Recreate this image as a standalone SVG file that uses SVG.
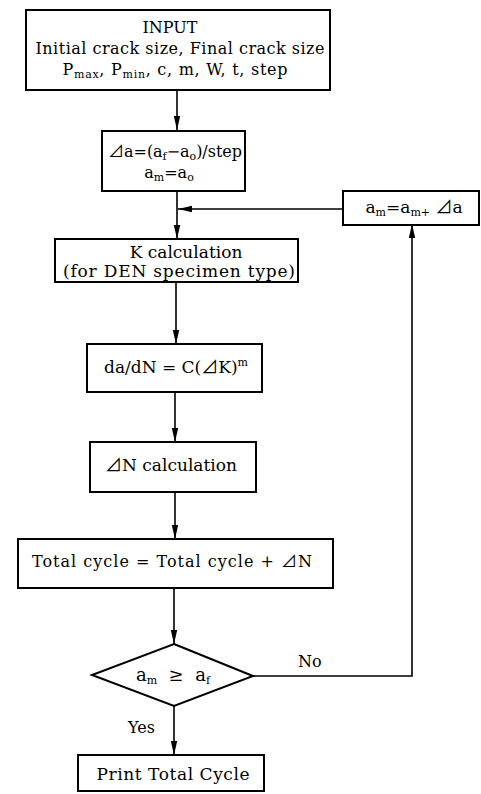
<svg xmlns="http://www.w3.org/2000/svg" width="481" height="794" viewBox="0 0 481 794">
<defs>
<marker id="ah" markerUnits="userSpaceOnUse" markerWidth="14" markerHeight="8" refX="14" refY="4" orient="auto"><path d="M0,0.8 L14,4 L0,7.2 z" fill="#000"/></marker>
<style>
.box{fill:#fff;stroke:#000;stroke-width:2}
.ln{fill:none;stroke:#000;stroke-width:1.6}
text{font-family:"DejaVu Serif","Liberation Serif","Noto Sans CJK JP",serif;font-size:16px;fill:#000}
.s{font-size:16px}
.b{font-size:17px}
.d{font-size:18px}
.sub{font-size:11px}
.c{text-anchor:middle}
</style>
</defs>
<rect width="481" height="794" fill="#fff"/>
<g id="connectors">
<path class="ln" d="M177,90 V130" marker-end="url(#ah)"/>
<path class="ln" d="M177,191 V239" marker-end="url(#ah)"/>
<path class="ln" d="M343,209 H178" marker-end="url(#ah)"/>
<path class="ln" d="M176,282 V344" marker-end="url(#ah)"/>
<path class="ln" d="M175,392 V442" marker-end="url(#ah)"/>
<path class="ln" d="M175,492 V539" marker-end="url(#ah)"/>
<path class="ln" d="M174,588 V644" marker-end="url(#ah)"/>
<path class="ln" d="M174,706 V755" marker-end="url(#ah)"/>
<path class="ln" d="M253,676 H412 V224" marker-end="url(#ah)"/>
<text x="298" y="667">No</text>
<text x="128" y="733">Yes</text>
</g>
<g id="input">
<rect class="box" x="26" y="10" width="304" height="80"/>
<text class="s c" x="170" y="33">INPUT</text>
<text class="s c" x="180" y="54" textLength="289">Initial crack size, Final crack size</text>
<text class="s c" x="175" y="75" textLength="225">P<tspan class="sub" dy="3">max</tspan><tspan dy="-3">, P</tspan><tspan class="sub" dy="3">min</tspan><tspan dy="-3">, c, m, W, t, step</tspan></text>
</g>
<g id="init">
<rect class="box" x="102" y="131" width="143" height="60"/>
<text class="c" x="175" y="157" textLength="134">⊿a=(a<tspan class="sub" dy="3">f</tspan><tspan dy="-3">−a</tspan><tspan class="sub" dy="3">o</tspan><tspan dy="-3">)/step</tspan></text>
<text class="c" x="169" y="178">a<tspan class="sub" dy="3">m</tspan><tspan dy="-3">=a</tspan><tspan class="sub" dy="3">o</tspan></text>
</g>
<g id="increment">
<rect class="box" x="343" y="191" width="136" height="34"/>
<text class="b c" x="414" y="213">a<tspan class="sub" dy="3">m</tspan><tspan dy="-3">=a</tspan><tspan class="sub" dy="3">m+</tspan><tspan dy="-3"> ⊿a</tspan></text>
</g>
<g id="kcalc">
<rect class="box" x="55" y="239" width="243" height="43"/>
<text class="b c" x="186" y="258">K calculation</text>
<text class="b c" x="179" y="277" textLength="232">(for DEN specimen type)</text>
</g>
<g id="dadn">
<rect class="box" x="87" y="344" width="175" height="48"/>
<text class="b c" x="176" y="373">da/dN = C(⊿K)<tspan class="sub" dy="-7">m</tspan></text>
</g>
<g id="dn">
<rect class="box" x="90" y="442" width="166" height="50"/>
<text class="b c" x="171" y="471">⊿N calculation</text>
</g>
<g id="total">
<rect class="box" x="18" y="539" width="315" height="49"/>
<text class="c" x="172" y="567" textLength="280">Total cycle = Total cycle + ⊿N</text>
</g>
<g id="decision">
<path class="box" d="M174,644 L253,676 L174,706 L92,675 Z"/>
<text class="d" x="136" y="681" xml:space="preserve">a<tspan class="sub" dy="3">m</tspan><tspan dy="-3">  ≥  a</tspan><tspan class="sub" dy="3">f</tspan></text>
</g>
<g id="print">
<rect class="box" x="78" y="755" width="186" height="36"/>
<text class="b c" x="173" y="780" textLength="153">Print Total Cycle</text>
</g>
</svg>
